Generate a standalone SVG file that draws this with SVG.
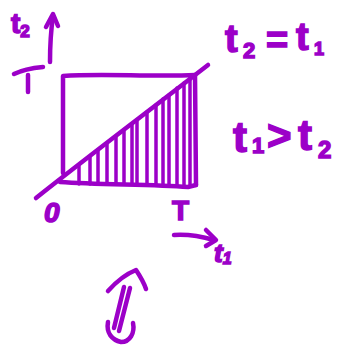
<svg xmlns="http://www.w3.org/2000/svg" width="346" height="345" viewBox="0 0 346 345">
<style>
.s{fill:none;stroke:#9c00c8;stroke-width:4.5;stroke-linecap:round;stroke-linejoin:round}
.h{fill:none;stroke:#9c00c8;stroke-width:3.5;stroke-linecap:round}
.t{fill:#9c00c8;stroke:#9c00c8;stroke-width:1.5;font-family:"Liberation Sans",Arial,sans-serif;font-weight:bold}
</style>
<rect width="346" height="345" fill="#ffffff"/>
<g id="axes">
<path class="s" d="M50,62 C50,45 51,30 53,16"/>
<path class="s" d="M46,27 L53,14 L58,26"/>
<path class="s" d="M14,74 C22,70 32,68 43,67"/>
<path class="s" d="M28,75 L28,92"/>
<path class="s" d="M174,235 C188,234 200,236 214,240"/>
<path class="s" d="M206,230 L216,240 L206,246"/>
</g>
<g id="square">
<path class="s" d="M63,173 L63,76 C100,73 150,77 195,75 L196,185"/>
<path class="s" d="M60,182 C100,185 150,184 188,187 L196,185"/>
<path class="s" d="M36,198 C90,155 150,110 208,65"/>
</g>
<g id="hatch">
<path class="h" d="M79,166 V184 M90,157 V184 M98,151 V184 M107,144 V184 M116,137 V184 M124,131 V184 M132,124 V184 M137,120 V185 M147,112 V185 M156,105 V185 M163,99 V185 M169,95 V185 M177,88 V185 M184,83 V186 M190,78 V186"/>
</g>
<g id="labels">
<text class="t" x="11" y="33" font-size="28">t<tspan font-size="17" dy="4">2</tspan></text>
<text class="t" font-size="38"><tspan x="225" y="52">t</tspan><tspan x="243" y="58" font-size="22">2</tspan><tspan x="266" y="53">=</tspan><tspan x="296" y="50">t</tspan><tspan x="314" y="55" font-size="18">1</tspan></text>
<text class="t" font-size="42"><tspan x="233" y="152">t</tspan><tspan x="252" y="153" font-size="22">1</tspan><tspan x="267" y="150">&gt;</tspan><tspan x="298" y="150">t</tspan><tspan x="318" y="158" font-size="24">2</tspan></text>
<text class="t" x="44" y="222" font-size="28" font-style="italic">0</text>
<text class="t" x="172" y="220" font-size="28">T</text>
<text class="t" x="214" y="262" font-size="26" font-style="italic">t<tspan font-size="16" dy="2">1</tspan></text>
</g>
<g id="implies">
<path class="s" d="M108,291 C116,282 126,274 136,270 C140,276 144,283 146,289"/>
<path class="s" d="M130,288 L119,331 M124,287 L114,328"/>
<path class="s" d="M108,322 C106,333 112,340 121,342 C130,342 135,333 133,323"/>
</g>
</svg>
